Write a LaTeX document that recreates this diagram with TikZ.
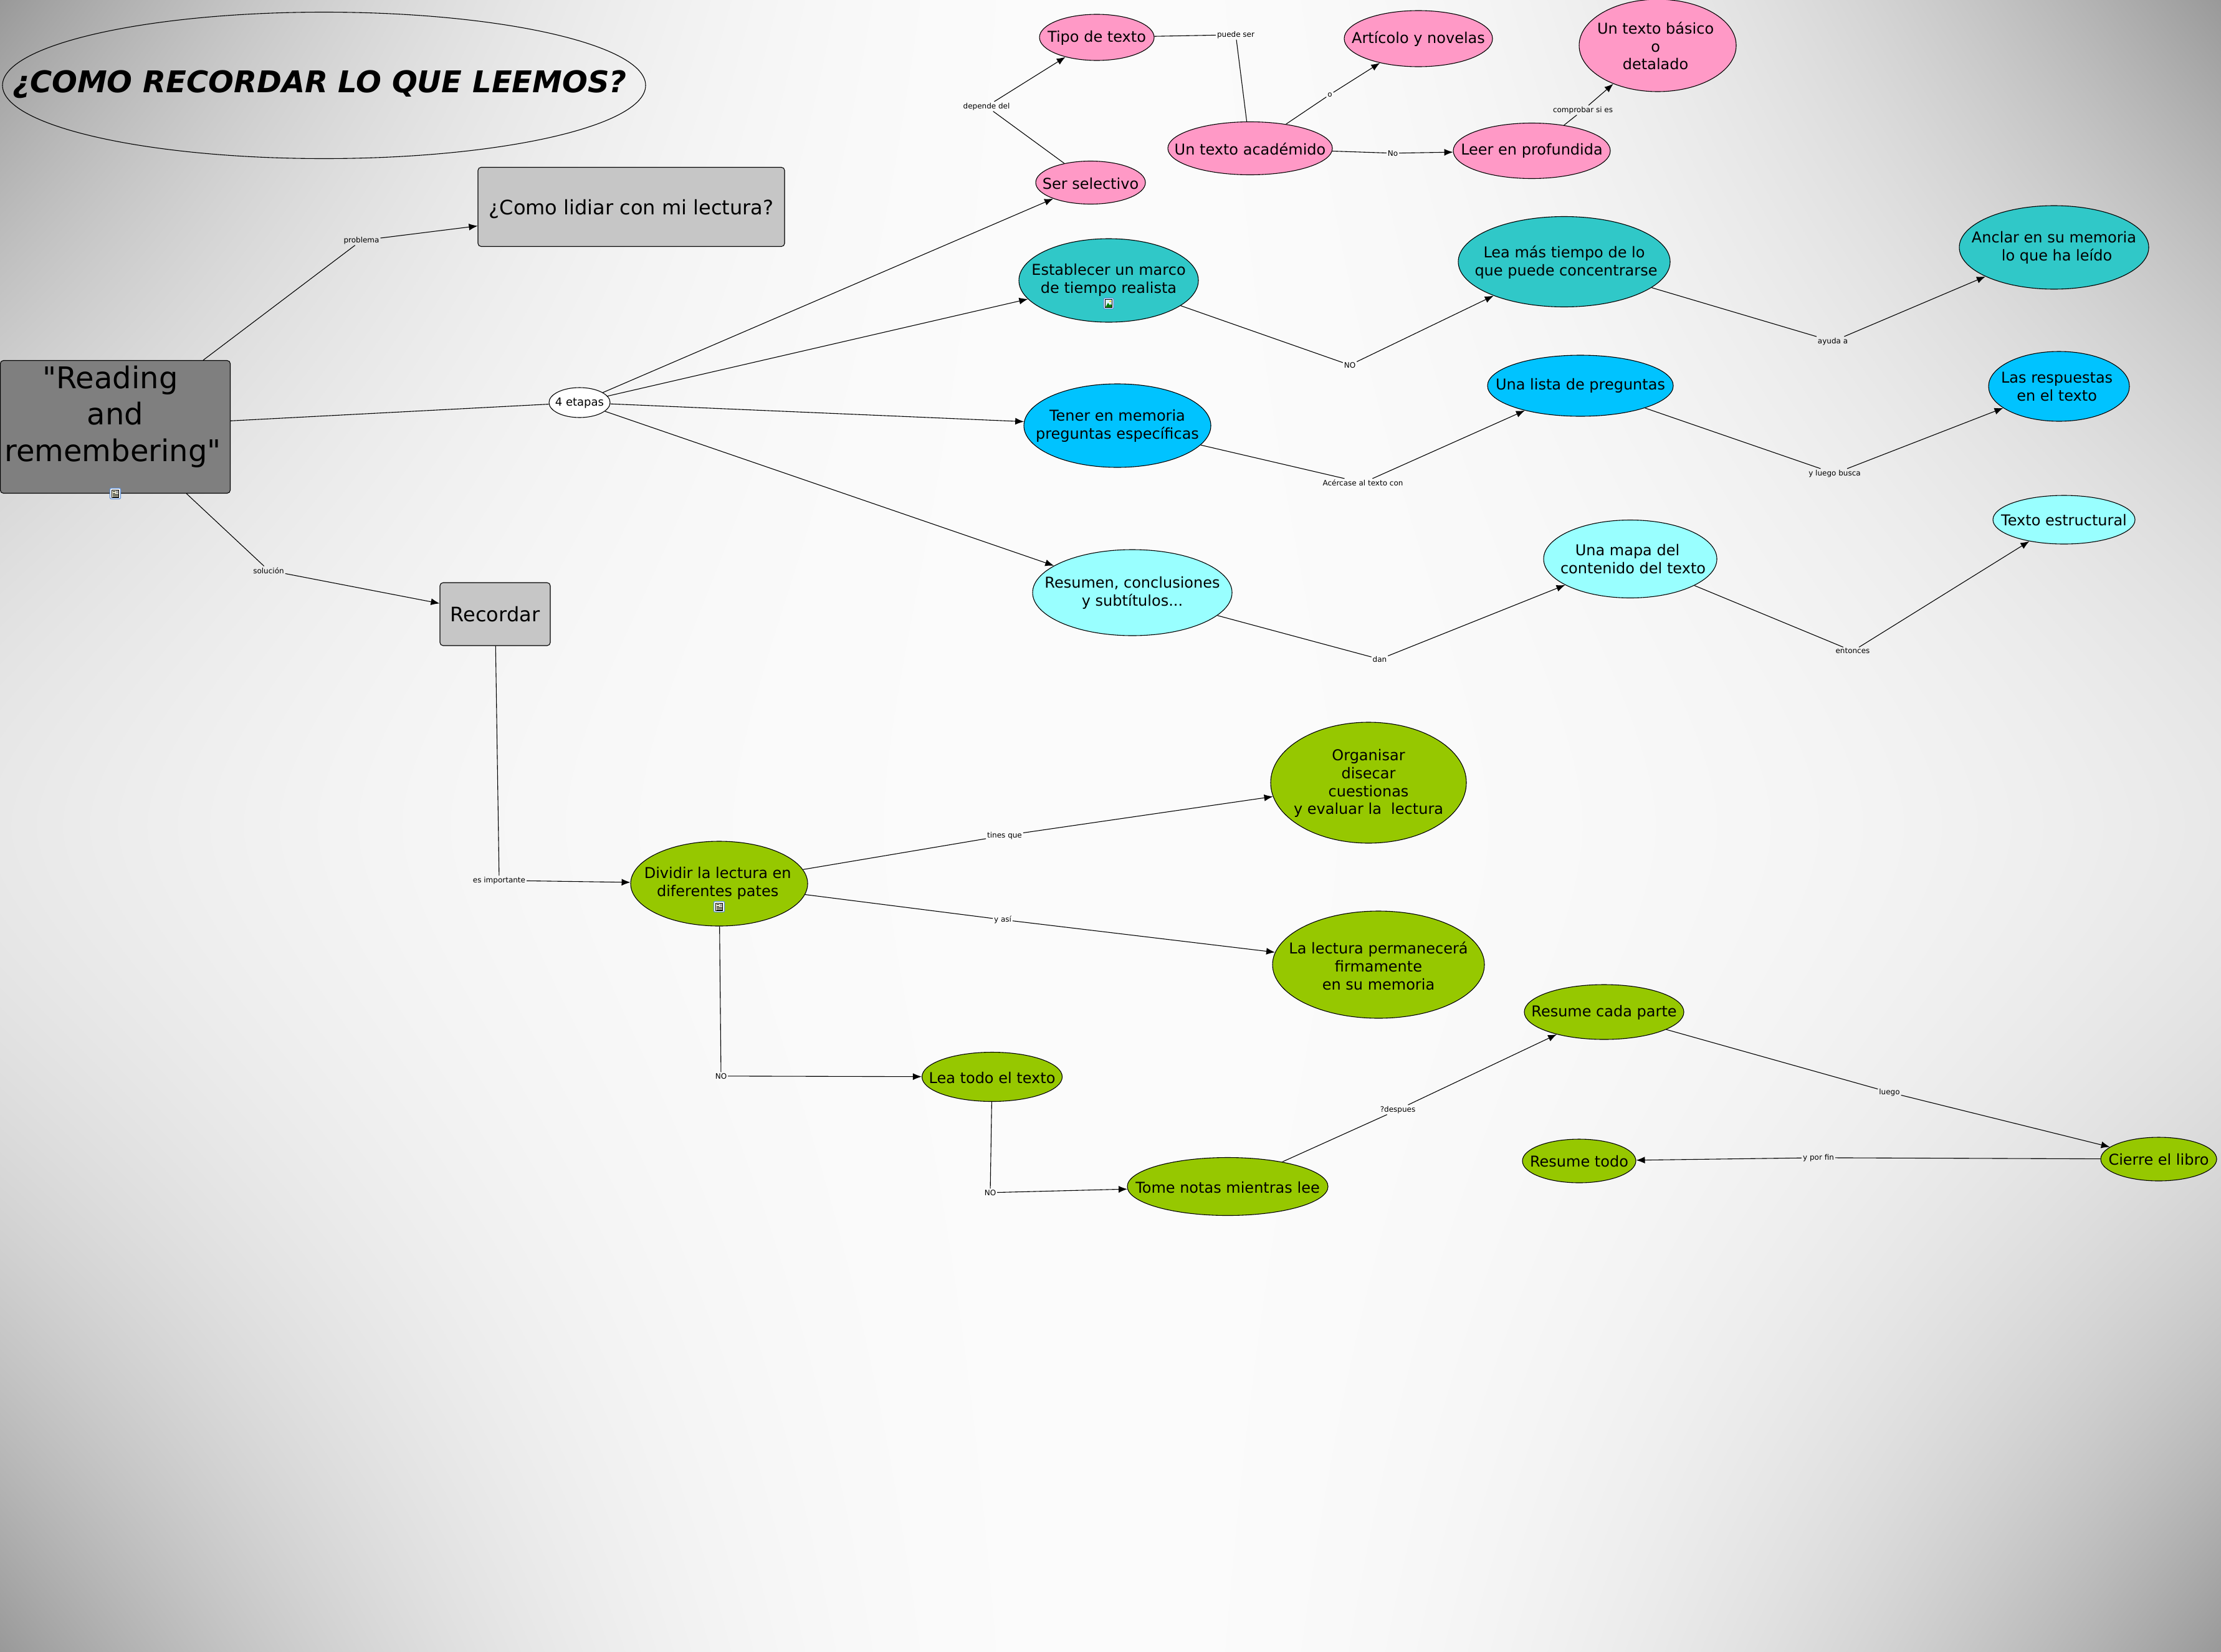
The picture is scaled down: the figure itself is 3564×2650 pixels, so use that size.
\documentclass[tikz,border=0pt]{standalone}
\usepackage{fontspec}
\setmainfont{DejaVu Sans}
\newfontfamily\plainf{DejaVu Sans}
\usetikzlibrary{shapes.geometric,arrows.meta,shadings}
\pgfdeclarefunctionalshading{bgshade}{\pgfpoint{0bp}{0bp}}{\pgfpoint{100bp}{100bp}}{}{%
exch 50 sub abs 25 div 2.4 exp
exch 50 sub abs 25 div 1.75 exp 0.31 mul 0.074 add
mul 0.984 exch sub dup dup}
\newcommand\zt[3]{\vbox to 0pt{\vss\hbox to 0pt{\hss\kern#1pt\hbox{\begin{tabular}{@{}c@{}}#3\end{tabular}}\hss}\vss\kern\dimexpr#2pt*2\relax}}
\definecolor{cpink}{HTML}{FF99C6}
\definecolor{cteal}{HTML}{30C8C8}
\definecolor{cblue}{HTML}{00C3FF}
\definecolor{ccyan}{HTML}{99FFFF}
\definecolor{cgreen}{HTML}{96C800}
\definecolor{cgreyl}{HTML}{C6C6C6}
\definecolor{cgreyd}{HTML}{7F7F7F}
\definecolor{iconblue}{HTML}{5B8FD9}
\tikzset{
  ell/.style n args={3}{ellipse,draw=black,line width=0.55pt,inner sep=0pt,fill=#3,minimum width=#1pt,minimum height=#2pt,font=\fontsize{12}{14.4}\selectfont},
  box/.style n args={3}{rectangle,rounded corners=2.5pt,draw=black,line width=0.55pt,inner sep=0pt,fill=#3,minimum width=#1pt,minimum height=#2pt},
  lab/.style={rectangle,inner sep=0.8pt,yshift=-0.4pt,font=\fontsize{6}{7}\selectfont},
  conn/.style={draw=black,line width=0.55pt},
  arr/.style={conn,-{Latex[length=7pt,width=5.5pt]}},
  docicon/.pic={
    \draw[iconblue,line width=0.6pt,fill=white,rounded corners=1pt] (-8.5,-8.5) rectangle (8.5,8.5);
    \draw[black,line width=0.4pt,fill=yellow!12] (-5.5,-6) rectangle (5.5,6.5);
    \fill[gray!70] (0.5,-5.5) rectangle (5,-0.5);
    \foreach \v in {-3.5,-1} \draw[black,line width=0.3pt] (-4,\v) -- (0,\v);
    \foreach \v in {1.5,3.5,5} \draw[black,line width=0.3pt] (-4,\v) -- (4.5,\v);
  },
  imgicon/.pic={
    \draw[iconblue,line width=0.6pt,fill=white,rounded corners=1pt] (-8,-8.5) rectangle (8,8.5);
    \draw[black,line width=0.4pt,fill=cyan!15] (-5.5,-6.5) rectangle (5.5,6.5);
    \fill[green!50!black] (-5,6) -- (-1,-1) -- (2,3) -- (3.5,1) -- (5,3) -- (5,6) -- cycle;
    \fill[yellow!80!orange] (2.5,-3.5) circle (1.5);
  }
}
\begin{document}
\begin{tikzpicture}[x=0.5pt,y=-0.5pt]
\useasboundingbox (0,0) rectangle (3564,2650);
\shade[shading=bgshade] (0,0) rectangle (3564,2650);
% title
\node[ellipse,draw=black,line width=0.55pt,inner sep=0pt,minimum width=516pt,minimum height=117.5pt,font=\fontsize{24}{29}\selectfont\bfseries\itshape] (title) at (520,137) {\zt{-7}{0}{¿COMO RECORDAR LO QUE LEEMOS?}};
% main boxes
\node[box={184.5}{106.5}{cgreyd},font=\fontsize{24}{29.25}\selectfont\plainf] (read) at (185,685) {\zt{-4}{7.4}{"Reading\hspace*{4pt}\\\hspace*{4pt}and\\remembering"}};
\node[box={246}{63.5}{cgreyl},font=\fontsize{16}{19}\selectfont] (lidiar) at (1013,332) {\zt{0}{-2.2}{¿Como lidiar con mi lectura?}};
\node[box={88.5}{50.5}{cgreyl},font=\fontsize{16}{19}\selectfont] (recordar) at (794.5,985.5) {\zt{0}{-2.2}{Recordar}};
\node[ell={49}{24}{white},font=\fontsize{9}{11}\selectfont] (etapas) at (930,646) {\zt{0}{-0.5}{4 etapas}};
% pink
\node[ell={92}{37}{cpink}] (tipo) at (1760,60) {\zt{0}{-1.1}{Tipo de texto}};
\node[ell={119}{45}{cpink}] (articolo) at (2276,62) {\zt{0}{-1.1}{Artícolo y novelas}};
\node[ell={126}{74}{cpink}] (basico) at (2660,73) {\zt{-3.4}{-2.2}{Un texto básico\\o\\detalado}};
\node[ell={132}{42.5}{cpink}] (academ) at (2006,238) {\zt{0}{-2.2}{Un texto académido}};
\node[ell={126}{44.5}{cpink}] (leer) at (2458,242) {\zt{0}{-0.6}{Leer en profundida}};
\node[ell={88}{34.5}{cpink}] (ser) at (1750,293) {\zt{0}{-2.2}{Ser selectivo}};
% teal
\node[ell={144}{67}{cteal}] (marco) at (1779,450) {\zt{0}{0}{Establecer un marco\\de tiempo realista}};
\node[ell={170}{72.5}{cteal}] (leamas) at (2510,420) {\zt{0}{-1.1}{Lea más tiempo de lo\\\hspace*{3pt}que puede concentrarse}};
\node[ell={152}{67}{cteal}] (anclar) at (3296,397) {\zt{0}{-0.6}{Anclar en su memoria\\\hspace*{4.5pt}lo que ha leído}};
% blue
\node[ell={150}{67}{cblue}] (tener) at (1793,683) {\zt{0}{-0.6}{Tener en memoria\\preguntas específicas}};
\node[ell={149}{49}{cblue}] (lista) at (2536,619) {\zt{0}{-0.6}{Una lista de preguntas}};
\node[ell={113}{56}{cblue}] (respuestas) at (3304,620) {\zt{-3.4}{-1.7}{Las respuestas\\en el texto}};
% cyan
\node[ell={160}{69}{ccyan}] (resumen) at (1817,951) {\zt{0}{-0.6}{Resumen, conclusiones\\y subtítulos...}};
\node[ell={139}{62.5}{ccyan}] (mapa) at (2616,897) {\zt{0}{-1.7}{Una mapa del\hspace*{4.5pt}\\\hspace*{4.5pt}contenido del texto}};
\node[ell={114}{39}{ccyan}] (estruct) at (3312,834) {\zt{0}{-1.7}{Texto estructural}};
% green
\node[ell={157}{97}{cgreen}] (organisar) at (2196,1256) {\zt{0}{-1}{Organisar\\disecar\\cuestionas\\y evaluar la\ \ lectura}};
\node[ell={170}{86}{cgreen}] (lectura) at (2212,1548) {\zt{0}{-2.8}{La lectura permanecerá\\firmamente\\en su memoria}};
\node[ell={142}{68}{cgreen}] (dividir) at (1154,1418) {\zt{-2.3}{0}{Dividir la lectura en\\diferentes pates}};
\node[ell={112.5}{39.5}{cgreen}] (leatodo) at (1592,1728) {\zt{0}{-2.2}{Lea todo el texto}};
\node[ell={161}{46.5}{cgreen}] (tome) at (1970,1904) {\zt{0}{-2.2}{Tome notas mientras lee}};
\node[ell={128}{44}{cgreen}] (cada) at (2574,1624) {\zt{0}{-1.1}{Resume cada parte}};
\node[ell={91}{35}{cgreen}] (todo) at (2534,1863) {\zt{0}{-1.7}{Resume todo}};
\node[ell={93}{35}{cgreen}] (cierre) at (3464,1860) {\zt{0}{-1.7}{Cierre el libro}};
% labels
\node[lab] (lproblema) at (580,385) {problema};
\node[lab] (lsolucion) at (431,914.5) {solución};
\node[lab] (limport) at (801,1412) {es importante};
\node[lab] (ltines) at (1612,1340) {tines que};
\node[lab] (lasi) at (1609,1475) {y así};
\node[lab] (lno1) at (1157,1726) {NO};
\node[lab] (lno2) at (1589,1913) {NO};
\node[lab] (ldespues) at (2243,1780) {?despues};
\node[lab] (lluego) at (3032,1752) {luego};
\node[lab] (lfin) at (2918,1857) {y por fin};
\node[lab] (ldepende) at (1583,170) {depende del};
\node[lab] (lpuede) at (1983,55) {puede ser};
\node[lab] (lo) at (2134,151) {o};
\node[lab] (lnotxt) at (2235,245) {No};
\node[lab] (lcomprobar) at (2540,176) {comprobar si es};
\node[lab] (lno3) at (2166,585) {NO};
\node[lab] (layuda) at (2941,547) {ayuda a};
\node[lab] (lacerc) at (2187,774) {Acércase al texto con};
\node[lab] (lbusca) at (2944,759) {y luego busca};
\node[lab] (ldan) at (2214,1057) {dan};
\node[lab] (lentonces) at (2973,1044) {entonces};
% connectors
\draw[conn] (read) -- (lproblema);
\draw[arr] (lproblema) -- (lidiar);
\draw[conn] (read) -- (lsolucion);
\draw[arr] (lsolucion) -- (recordar);
\draw[conn] (read) -- (etapas);
\draw[arr] (etapas) -- (ser);
\draw[arr] (etapas) -- (marco);
\draw[arr] (etapas) -- (tener);
\draw[arr] (etapas) -- (resumen);
\draw[conn] (ser) -- (ldepende);
\draw[arr] (ldepende) -- (tipo);
\draw[conn] (tipo) -- (lpuede);
\draw[conn] (lpuede) -- (academ);
\draw[conn] (academ) -- (lo);
\draw[arr] (lo) -- (articolo);
\draw[conn] (academ) -- (lnotxt);
\draw[arr] (lnotxt) -- (leer);
\draw[conn] (leer) -- (lcomprobar);
\draw[arr] (lcomprobar) -- (basico);
\draw[conn] (marco) -- (lno3);
\draw[arr] (lno3) -- (leamas);
\draw[conn] (leamas) -- (layuda);
\draw[arr] (layuda) -- (anclar);
\draw[conn] (tener) -- (lacerc);
\draw[arr] (lacerc) -- (lista);
\draw[conn] (lista) -- (lbusca);
\draw[arr] (lbusca) -- (respuestas);
\draw[conn] (resumen) -- (ldan);
\draw[arr] (ldan) -- (mapa);
\draw[conn] (mapa) -- (lentonces);
\draw[arr] (lentonces) -- (estruct);
\draw[conn] (recordar) -- (limport);
\draw[arr] (limport) -- (dividir);
\draw[conn] (dividir) -- (ltines);
\draw[arr] (ltines) -- (organisar);
\draw[conn] (dividir) -- (lasi);
\draw[arr] (lasi) -- (lectura);
\draw[conn] (dividir) -- (lno1);
\draw[arr] (lno1) -- (leatodo);
\draw[conn] (leatodo) -- (lno2);
\draw[arr] (lno2) -- (tome);
\draw[conn] (tome) -- (ldespues);
\draw[arr] (ldespues) -- (cada);
\draw[conn] (cada) -- (lluego);
\draw[arr] (lluego) -- (cierre);
\draw[conn] (cierre) -- (lfin);
\draw[arr] (lfin) -- (todo);
% icons
\pic at (185,792) {docicon};
\pic at (1154,1455) {docicon};
\pic at (1779,487) {imgicon};
\end{tikzpicture}
\end{document}
